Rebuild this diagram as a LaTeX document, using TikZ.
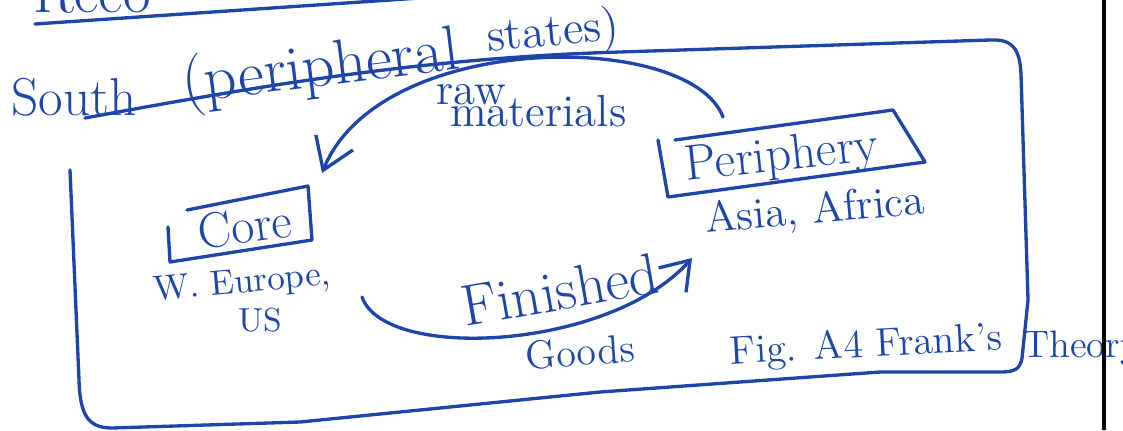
\documentclass[tikz,border=0pt]{standalone}
\usepackage{xcolor}
\usetikzlibrary{arrows.meta,positioning}
\definecolor{ink}{HTML}{1E46A8}

\tikzset{
  pen/.style={ink,line width=1pt,line cap=round,line join=round},
  hand/.style={ink,inner sep=0pt,font=\fontsize{#1}{#1}\selectfont},
  hand/.default=14
}

\begin{document}
\begin{tikzpicture}[x=0.3pt,y=-0.3pt]
    \useasboundingbox (0,0) rectangle (1123,430);
    % heading cut off at the top
    \node[hand=18,anchor=base west] (reco) at (33,12) {Reco};
    \draw[pen] (35,24) -- (420,-2);
    % region title
    \node[hand=16] (south) at (74,97) {South};
    \node[hand=19,rotate=7,anchor=base west] (peri) at (184,103) {(peripheral};
    \node[hand=14,rotate=5] (states) at (553,34) {states)};
    % outer region, its top edge underlines the title
    \draw[pen] (85,118) .. controls (260,86) and (420,58) .. (620,52) -- (990,40)
        .. controls (1012,39) and (1020,48) .. (1021,75) -- (1028,300) -- (1022,358)
        .. controls (1020,369) and (1015,372) .. (1000,372) -- (880,372) -- (600,392)
        -- (300,422) -- (112,428) .. controls (88,428) and (80,415) .. (79,380) -- (70,170);
    % core box
    \draw[pen] (168,227) -- (170,262) -- (312,240) -- (308,186) -- (187,210);
    \node[hand=15,rotate=8] (core) at (245,226) {Core};
    \node[hand=10.5,rotate=5] (weu) at (242,284) {W. Europe,};
    \node[hand=10] (us) at (260,320) {US};
    % periphery box
    \draw[pen] (658,140) -- (668,197) -- (925,162) -- (893,110) -- (675,140);
    \node[hand=15,rotate=6] (periph) at (782,158) {Periphery};
    \node[hand=13,rotate=5] (asia) at (815,212) {Asia, Africa};
    % flows
    \coordinate (rawstart) at (723,117);
    \coordinate (rawtip) at (322,173);
    \draw[pen,-{Straight Barb[length=9pt,width=12pt]}] (rawstart) .. controls (690,30) and (380,30) .. (rawtip);
    \node[hand=13.5,align=left,anchor=north west] (rawmat) at (436,84) {raw\\[-7pt]\hspace*{4pt}materials};
    \coordinate (goodsstart) at (362,297);
    \coordinate (goodstip) at (692,258);
    \draw[pen,-{Straight Barb[length=8pt,width=11pt]}] (goodsstart) .. controls (385,362) and (610,350) .. (goodstip);
    \node[hand=17.5,rotate=10] (fin) at (560,290) {Finished};
    \node[hand=12,rotate=4] (goods) at (580,352) {Goods};
    % caption
    \node[hand=12,rotate=3] (fig) at (866,347) {Fig. A4 Frank's};
    \node[hand=11.5] (theory) at (1081,348) {Theory};
    \draw[black,line width=1pt] (1104,0) -- (1104,430);
\end{tikzpicture}
\end{document}
